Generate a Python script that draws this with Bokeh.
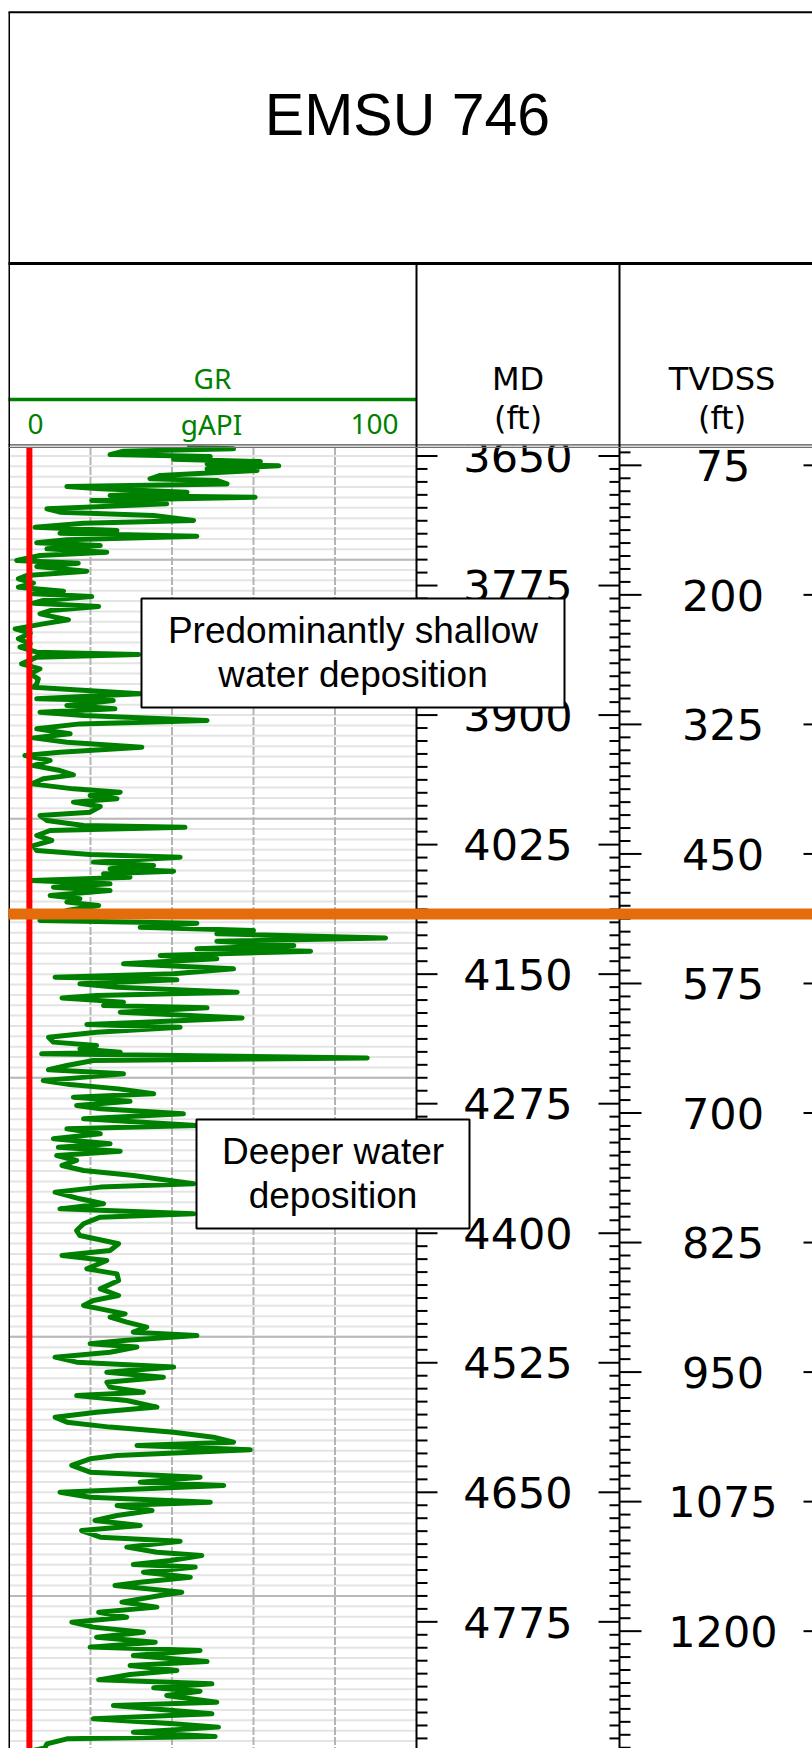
import numpy as np
from bokeh.plotting import figure
from bokeh.models import Range1d
from bokeh.embed import file_html
from bokeh.resources import INLINE
from bokeh.core.properties import value

# ---------------- data ----------------
WELL = "EMSU 746"

MD = [
    3641.5, 3643.1, 3645.3, 3648.6, 3650.5, 3653.1, 3655.3, 3657.6, 3659.5, 3662.4,
    3664.0, 3668.8, 3672.0, 3673.6, 3676.9, 3679.4, 3681.7, 3684.9, 3688.1, 3689.7,
    3693.0, 3696.2, 3701.0, 3704.2, 3707.4, 3712.2, 3714.8, 3718.7, 3721.9, 3724.5,
    3727.4, 3730.9, 3733.8, 3736.4, 3739.6, 3742.8, 3746.0, 3750.8, 3753.4, 3756.6,
    3761.1, 3765.3, 3768.5, 3772.7, 3776.6, 3780.4, 3783.0, 3785.6, 3789.4, 3792.0,
    3795.2, 3799.1, 3802.3, 3808.1, 3812.0, 3816.8, 3821.0, 3826.4, 3831.3, 3834.5,
    3839.3, 3841.6, 3844.1, 3850.6, 3855.4, 3860.2, 3865.0,
    3869.9, 3873.1, 3879.5, 3884.3, 3885.9, 3890.8, 3894.0, 3897.2, 3900.4, 3905.2,
    3908.5, 3913.3, 3918.1, 3922.0, 3926.2, 3931.0, 3935.8, 3939.0, 3943.8, 3948.7,
    3953.5, 3957.7, 3961.5, 3966.4, 3971.2, 3974.4, 3977.6, 3980.8, 3984.0, 3988.2,
    3993.7, 3996.9, 4001.7, 4006.6, 4008.2, 4011.4, 4016.2, 4021.0, 4025.9, 4030.7,
    4034.5, 4037.1, 4041.9, 4045.2, 4048.4, 4050.6, 4053.2, 4056.4, 4059.6, 4062.8,
    4066.1, 4069.3, 4074.1, 4077.3, 4080.5, 4083.8, 4088.6, 4098.2,
    4100.8, 4104.7, 4107.9, 4111.1, 4115.0, 4118.2, 4122.4, 4125.6, 4127.8, 4132.0,
    4135.2, 4140.0, 4144.9, 4149.7, 4152.9, 4155.5, 4159.3, 4162.6, 4167.4, 4170.6,
    4172.9, 4177.0, 4180.3, 4182.5, 4186.7, 4192.2, 4196.3, 4198.6, 4201.2, 4206.0,
    4210.8, 4215.6, 4218.9, 4222.1, 4225.3, 4226.9, 4230.8, 4233.3, 4238.1, 4242.3,
    4246.2, 4250.1, 4252.6, 4256.5, 4260.7, 4265.5, 4268.7, 4272.6, 4276.7, 4280.0,
    4284.8, 4289.6, 4296.0, 4299.3, 4304.1, 4308.9, 4313.7, 4317.0, 4320.8, 4325.0,
    4329.8, 4334.6, 4339.5, 4344.3,
    4352.3, 4355.5, 4360.4, 4366.8, 4371.6, 4376.5, 4381.3, 4384.5, 4390.9, 4397.4,
    4402.2, 4410.2, 4416.7, 4421.5, 4426.3, 4434.4, 4439.2, 4445.6, 4453.7, 4460.1,
    4464.9, 4469.7, 4473.0, 4477.8, 4481.0, 4485.8, 4490.6, 4495.5, 4498.7, 4503.5,
    4506.7, 4509.9, 4514.8, 4519.6, 4524.4, 4529.2, 4534.1, 4538.9, 4543.7, 4548.5,
    4553.4, 4556.6, 4561.4, 4567.8, 4572.7, 4577.5, 4582.3, 4587.1, 4592.0, 4596.8,
    4601.6, 4604.8, 4609.0,
    4614.5, 4617.7, 4624.1, 4630.6, 4635.4, 4640.2, 4643.4, 4649.9, 4654.7, 4659.5,
    4662.7, 4667.6, 4672.4, 4677.2, 4682.0, 4686.9, 4693.3, 4697.2, 4702.9, 4707.8,
    4711.0, 4715.8, 4719.7, 4722.2, 4727.1, 4731.9, 4736.7, 4739.9, 4746.4, 4749.6,
    4756.0, 4760.8, 4765.7, 4770.5, 4775.3, 4780.1, 4785.0, 4789.8, 4794.6, 4799.4,
    4802.7, 4807.5, 4813.3, 4817.1, 4822.0, 4825.8, 4831.0, 4834.8, 4838.7, 4841.9,
    4846.1, 4852.5, 4855.7, 4863.8, 4868.6, 4873.4, 4876.6, 4881.5, 4885.6, 4887.9,
    4892.7, 4896.6, 4899.0,
]

GR = [
    43.7, 55.1, 28.1, 24.8, 49.4, 40.4, 61.7, 48.6, 66.2, 48.6,
    60.9, 37.1, 34.6, 51.0, 53.5, 14.2, 22.4, 43.7, 24.8, 60.4,
    20.3, 38.7, 9.3, 12.5, 35.5, 45.3, 18.3, 6.4, 26.5, 12.5,
    46.1, 14.2, 6.8, 22.4, 9.3, 24.0, 7.6, 1.9, 17.0, 6.8,
    19.1, 4.3, 2.3, 6.0, 2.3, 13.4, 6.0, 20.3, 8.4, 6.0,
    22.0, 10.1, 7.6, 14.6, 8.4, 1.5, 5.2, 2.3, 5.2, 2.7,
    6.8, 31.8, 6.8, 3.1, 7.6, 5.2, 7.2,
    6.8, 6.0, 32.2, 6.8, 25.6, 14.2, 26.0, 7.6, 18.3, 48.6,
    17.4, 6.8, 15.0, 6.0, 14.2, 32.6, 12.5, 3.9, 10.1, 6.0,
    12.5, 15.8, 8.4, 5.6, 15.8, 27.3, 19.9, 26.5, 15.8, 22.4,
    19.9, 7.6, 9.3, 18.3, 43.2, 10.1, 6.8, 10.5, 6.0, 6.8,
    19.9, 42.0, 20.7, 35.5, 24.8, 40.4, 23.2, 29.7, 5.6, 24.8,
    10.9, 24.8, 10.1, 17.4, 14.2, 22.0, 14.2, 7.6,
    46.1, 32.2, 60.0, 51.0, 92.4, 51.0, 69.9, 46.1, 74.0, 37.1,
    51.0, 28.1, 55.1, 40.4, 11.3, 41.2, 17.4, 26.5, 56.0, 21.5,
    13.0, 28.1, 23.2, 48.6, 27.3, 57.2, 33.0, 19.1, 42.0, 21.5,
    9.7, 10.9, 21.5, 17.4, 27.3, 8.0, 87.9, 20.7, 14.2, 9.7,
    28.1, 16.6, 8.4, 15.0, 26.9, 35.5, 15.8, 29.7, 16.6, 22.4,
    42.8, 18.3, 46.1, 14.2, 22.4, 10.9, 24.8, 12.1, 27.3, 11.7,
    16.6, 13.0, 18.3, 30.5,
    45.3, 22.4, 11.3, 17.4, 23.2, 12.5, 45.3, 22.4, 18.3, 16.6,
    17.4, 26.9, 24.8, 13.0, 24.0, 19.1, 26.5, 26.9, 22.4, 26.9,
    20.7, 18.3, 22.4, 28.5, 24.8, 28.9, 33.8, 30.5, 46.1, 28.1,
    19.9, 31.4, 24.8, 11.3, 16.6, 40.4, 24.0, 37.9, 24.0, 24.8,
    33.0, 16.6, 28.9, 36.3, 21.5, 11.3, 14.2, 24.8, 40.4, 50.2,
    55.1, 31.4, 59.2,
    26.5, 19.9, 15.4, 19.9, 46.9, 32.2, 52.7, 12.5, 19.9, 49.4,
    26.5, 35.1, 26.5, 21.1, 32.2, 17.8, 22.4, 42.0, 28.9, 36.3,
    47.3, 39.6, 30.5, 45.7, 33.0, 44.5, 32.2, 26.0, 42.4, 37.1,
    27.7, 36.3, 22.0, 28.9, 15.4, 20.7, 33.0, 21.5, 35.9, 19.9,
    46.9, 30.5, 48.6, 29.7, 41.2, 29.7, 22.0, 49.8, 35.5, 46.9,
    38.7, 51.0, 25.6, 49.8, 20.7, 40.4, 51.4, 30.5, 50.6, 14.2,
    9.3, 8.8, 6.0,
]

MD_LABELS = [3650, 3775, 3900, 4025, 4150, 4275, 4400, 4525, 4650, 4775]
TVD_LABELS = [75, 200, 325, 450, 575, 700, 825, 950, 1075, 1200]
GR_GRID = [20, 40, 60, 80]
DEPTH_MAJOR_GRID = [3750, 4000, 4250, 4500, 4750]
KB_SHIFT = 3584.0          # MD - TVDSS
BOUNDARY_MD = 4092.0       # orange surface
GR_CUTOFF = 5.0
NOTE1 = ["Predominantly shallow", "water deposition"]
NOTE2 = ["Deeper water", "deposition"]

# ---------------- layout constants (page pixels) ----------------
W, H = 812, 1748
PX_PER_FT = 1.0363
MD_REF, Y_REF = 3650.0, 455.5
PX_PER_GR, X_GR0 = 4.075, 8.5
DATA_TOP = 446.5
md_top = MD_REF - Y_REF / PX_PER_FT
md_bot = MD_REF + (H - Y_REF) / PX_PER_FT
md_data_top = MD_REF - (Y_REF - DATA_TOP) / PX_PER_FT

X_LEFT = 8.75
X_MD_L, X_MD_R, X_TVD_R = 416.0, 619.0, 824.0
BL = 0.36   # alphabetic baseline correction (em)


def ty(baseline, size):
    return baseline - BL * size


p = figure(width=W, height=H, x_range=Range1d(0, W), y_range=Range1d(H, 0),
           min_border=0, x_axis_location=None, y_axis_location=None,
           toolbar_location=None, output_backend="svg",
           outline_line_color=None, background_fill_color="white",
           border_fill_color="white")
p.grid.visible = False
p.extra_x_ranges = {"gr": Range1d(-X_GR0 / PX_PER_GR, (W - X_GR0) / PX_PER_GR)}
p.extra_y_ranges = {"md": Range1d(md_bot, md_top),
                    "tvd": Range1d(md_bot - KB_SHIFT, md_top - KB_SHIFT)}

GREEN = "#008000"

# ---- GR track grid ----
minor = np.arange(3650, 4900, 10.0)
p.segment(x0=0, x1=100, y0=minor, y1=minor, x_range_name="gr", y_range_name="md",
          line_color="#e4e4e4", line_width=2)
p.segment(x0=0, x1=100, y0=DEPTH_MAJOR_GRID, y1=DEPTH_MAJOR_GRID, x_range_name="gr",
          y_range_name="md", line_color="#b9b9b9", line_width=2)
p.segment(x0=GR_GRID, x1=GR_GRID, y0=md_data_top, y1=md_bot, x_range_name="gr",
          y_range_name="md", line_color="#b4b4b4", line_width=2, line_dash="8 2")

# ---- GR curve ----
p.line(GR, MD, x_range_name="gr", y_range_name="md", line_color=GREEN,
       line_width=5, line_join="round")
p.segment(x0=GR_CUTOFF, x1=GR_CUTOFF, y0=md_data_top, y1=md_bot, x_range_name="gr",
          y_range_name="md", line_color="#ff0000", line_width=6)

# ---- MD ticks ----
md_t = np.arange(3650, 4910, 12.5)
md_major = np.isclose((md_t - 3650) % 125, 0)
lt = np.where(md_major, 21, 11)
rt = np.where(md_major, 21, 10)
p.segment(x0=X_MD_L, x1=X_MD_L + lt, y0=md_t, y1=md_t, y_range_name="md",
          line_color="black", line_width=2)
p.segment(x0=X_MD_R - rt, x1=X_MD_R, y0=md_t, y1=md_t, y_range_name="md",
          line_color="black", line_width=2)
# ---- TVDSS ticks ----
tv_t = np.arange(62.5, 1330, 12.5)
tv_major = np.isclose((tv_t - 75) % 125, 0)
lt2 = np.where(tv_major, 22, 11)
rt2 = np.where(tv_major, 21, 10)
p.segment(x0=X_MD_R, x1=X_MD_R + lt2, y0=tv_t, y1=tv_t, y_range_name="tvd",
          line_color="black", line_width=2)
p.segment(x0=X_TVD_R - rt2, x1=X_TVD_R, y0=tv_t, y1=tv_t, y_range_name="tvd",
          line_color="black", line_width=2)

LBL = 43
p.text(x=517.5, y=MD_LABELS, text=[str(v) for v in MD_LABELS], y_range_name="md",
       text_font=value("DejaVu Sans"), text_font_size=f"{LBL}px", text_align="center",
       text_baseline="alphabetic", y_offset=(0.364 - BL) * LBL, text_color="black")
p.text(x=722.5, y=TVD_LABELS, text=[str(v) for v in TVD_LABELS], y_range_name="tvd",
       text_font=value("DejaVu Sans"), text_font_size=f"{LBL}px", text_align="center",
       text_baseline="alphabetic", y_offset=(0.364 - BL) * LBL, text_color="black")

# ---- track borders (data part) ----
p.segment(x0=[X_LEFT, X_MD_L, X_MD_R], x1=[X_LEFT, X_MD_L, X_MD_R],
          y0=DATA_TOP, y1=H, line_color="black", line_width=[1.5, 2, 2])

# ---- boundary ----
p.segment(x0=X_LEFT - 0.75, x1=W, y0=BOUNDARY_MD, y1=BOUNDARY_MD, y_range_name="md",
          line_color="#e46c0a", line_width=11)

# ---- annotation boxes ----
p.quad(left=[141, 196], right=[564, 469], top=[598, 1119], bottom=[707, 1228],
       fill_color="white", line_color="black", line_width=2)
NS = 37
p.text(x=[352.5, 352.5, 332.5, 332.5],
       y=[ty(643, NS), ty(687, NS), ty(1164, NS), ty(1208, NS)],
       text=NOTE1 + NOTE2, text_font=value("Liberation Sans"), text_font_size=f"{NS}px",
       text_align="center", text_baseline="alphabetic", text_color="black")

# ---- header ----
p.quad(left=0, right=W, top=0, bottom=DATA_TOP - 1.5, fill_color="white", line_color=None)
p.text(x=407, y=ty(136, 59), text=[WELL], text_font=value("Liberation Sans"),
       text_font_size="59px", text_align="center", text_baseline="alphabetic",
       text_color="black")
GS = 28
p.text(x=212, y=ty(388, GS), text=["GR"], text_font=value("Noto Sans"),
       text_font_size=f"{GS}px", text_align="center", text_baseline="alphabetic",
       text_color=GREEN)
p.segment(x0=X_LEFT - 0.75, x1=X_MD_L, y0=399, y1=399, line_color=GREEN, line_width=3.5)
p.text(x=[27, 211, 398], y=ty(434, GS), text=["0", "gAPI", "100"],
       text_font=value("Noto Sans"), text_font_size=f"{GS}px",
       text_align=["left", "center", "right"], text_baseline="alphabetic",
       text_color=GREEN)
HS = 32
p.text(x=[517.5, 517.5, 721.5, 721.5],
       y=[ty(389.7, HS), ty(428.7, HS), ty(389.7, HS), ty(428.7, HS)],
       text=["MD", "(ft)", "TVDSS", "(ft)"], text_font=value("DejaVu Sans"),
       text_font_size=f"{HS}px", text_align="center", text_baseline="alphabetic",
       text_color="black")

p.segment(x0=8, x1=W, y0=[444.3, 446.8], y1=[444.3, 446.8],
          line_color=["#505050", "#707070"], line_width=1.3)
p.segment(x0=[X_LEFT, 8, 8, X_MD_L, X_MD_R], x1=[X_LEFT, W, W, X_MD_L, X_MD_R],
          y0=[11.7, 11.7, 263, 263, 263], y1=[DATA_TOP, 11.7, 263, DATA_TOP, DATA_TOP],
          line_color="black", line_width=[1.5, 2, 3, 2, 2])

open("out.html", "w").write(file_html(p, INLINE))
